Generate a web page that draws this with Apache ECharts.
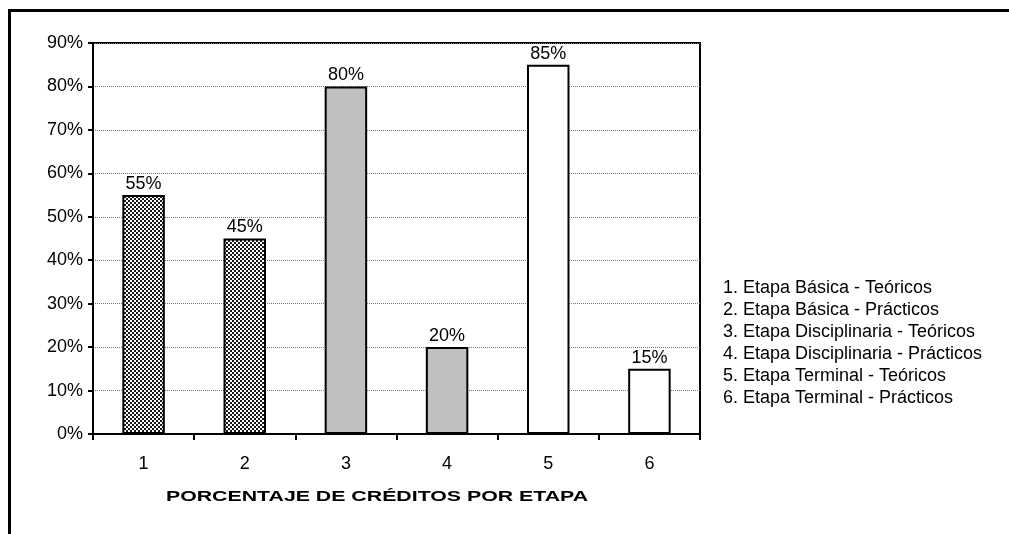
<!DOCTYPE html>
<html lang="es">
<head>
  <meta charset="UTF-8">
  <title>Porcentaje de créditos por etapa</title>
  <script src="https://cdn.jsdelivr.net/npm/echarts@6/dist/echarts.min.js"></script>
  <style>
    html, body { margin: 0; padding: 0; background: #fff; }
    #chart { width: 1009px; height: 534px; }
  </style>
</head>
<body>
  <div id="chart"></div>
  <script>
    // datos
    const categories = ['1', '2', '3', '4', '5', '6'];
    const values = [55, 45, 80, 20, 85, 15];
    const legendLines = [
      '1. Etapa Básica - Teóricos',
      '2. Etapa Básica - Prácticos',
      '3. Etapa Disciplinaria - Teóricos',
      '4. Etapa Disciplinaria - Prácticos',
      '5. Etapa Terminal - Teóricos',
      '6. Etapa Terminal - Prácticos'
    ];
    const yTicks = [0, 10, 20, 30, 40, 50, 60, 70, 80, 90];
    const axisTitle = 'PORCENTAJE DE CRÉDITOS POR ETAPA';

    // patron de cuadritos para la etapa basica
    const tile = document.createElement('canvas');
    tile.width = 4;
    tile.height = 4;
    const tctx = tile.getContext('2d');
    tctx.fillStyle = '#fff';
    tctx.fillRect(0, 0, 4, 4);
    tctx.fillStyle = '#1a1a1a';
    tctx.fillRect(0, 0, 2, 2);
    tctx.fillRect(2, 2, 2, 2);
    const checker = { image: tile, repeat: 'repeat' };

    const fills = [checker, checker, '#c0c0c0', '#c0c0c0', '#ffffff', '#ffffff'];
    const font = 'Liberation Sans, Arial, sans-serif';

    const chart = echarts.init(document.getElementById('chart'));

    const option = {
      backgroundColor: '#fff',
      animation: false,
      grid: {
        left: 93, top: 43, right: 309, bottom: 100,
        show: true, borderColor: '#000', borderWidth: 2,
        backgroundColor: 'transparent'
      },
      xAxis: {
        type: 'category',
        data: categories,
        axisLine: { lineStyle: { color: '#000', width: 2 } },
        axisTick: { show: true, length: 6, lineStyle: { color: '#000', width: 2 } },
        axisLabel: { color: '#000', fontSize: 18, fontFamily: font, margin: 21 },
        splitLine: { show: false }
      },
      yAxis: {
        type: 'value',
        min: yTicks[0],
        max: yTicks[yTicks.length - 1],
        interval: 10,
        axisLine: { show: true, lineStyle: { color: '#000', width: 2 } },
        axisTick: { show: true, length: 5, lineStyle: { color: '#000', width: 2 } },
        axisLabel: { color: '#000', fontSize: 18, fontFamily: font, margin: 10, formatter: '{value}%' },
        splitLine: { show: true, lineStyle: { color: '#777', width: 1, type: 'dotted' } }
      },
      series: [{
        type: 'bar',
        barWidth: '42%',
        data: values.map((v, i) => ({
          value: v,
          itemStyle: { color: fills[i], borderColor: '#000', borderWidth: 2 }
        })),
        label: {
          show: true,
          position: 'top',
          distance: 2,
          color: '#000',
          fontSize: 18,
          fontFamily: font,
          formatter: '{c}%'
        }
      }],
      graphic: [
        // marco exterior
        {
          type: 'rect',
          shape: { x: 9.5, y: 10.5, width: 1100, height: 700 },
          style: { fill: 'none', stroke: '#000', lineWidth: 3 },
          silent: true
        },
        {
          type: 'text',
          x: 377, y: 497,
          style: {
            text: axisTitle,
            fill: '#000',
            font: 'bold 15px ' + font,
            align: 'center',
            verticalAlign: 'middle'
          },
          scaleX: 1.42,
          originX: 0,
          originY: 0
        }
      ].concat(legendLines.map((t, i) => ({
        type: 'text',
        x: 723,
        y: 288 + i * 22,
        style: {
          text: t,
          fill: '#000',
          font: '18px ' + font,
          align: 'left',
          verticalAlign: 'middle'
        }
      })))
    };

    chart.setOption(option);
  </script>
</body>
</html>
